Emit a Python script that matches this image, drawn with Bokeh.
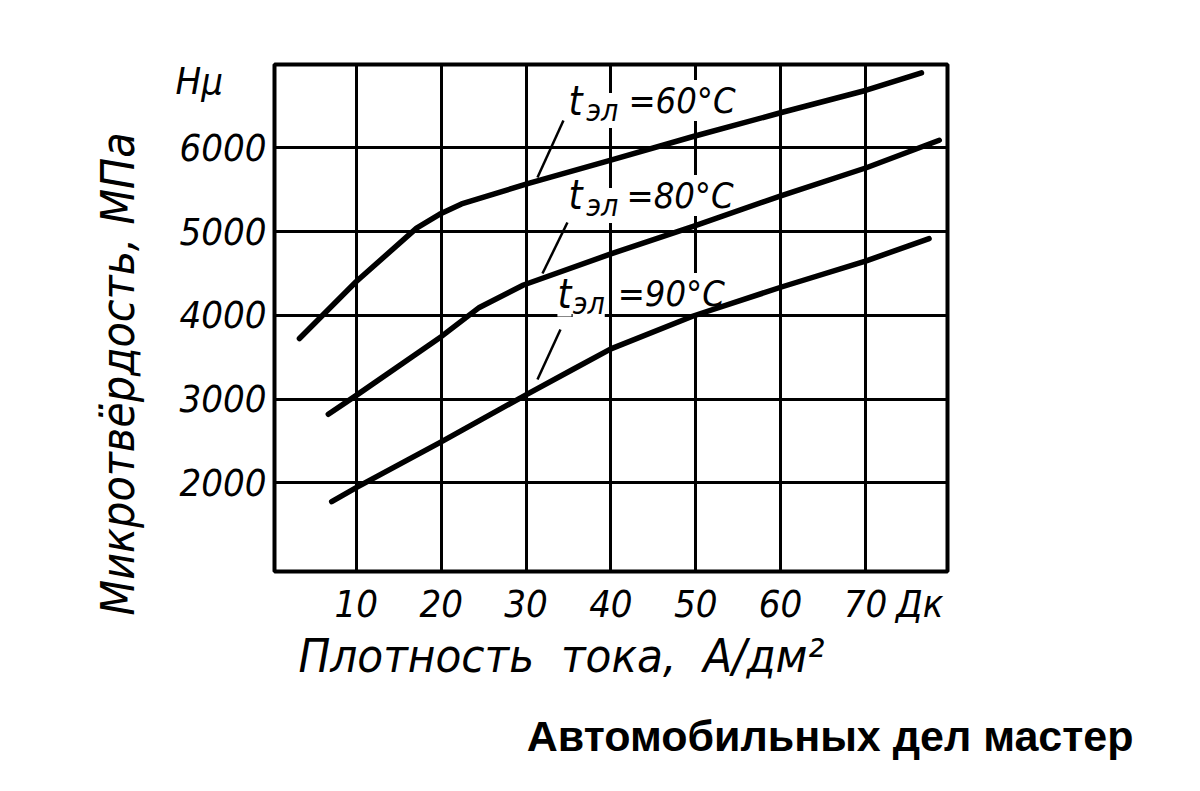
import math
from bokeh.plotting import figure
from bokeh.models import Range1d, FixedTicker, Label, Title
from bokeh.embed import file_html
from bokeh.resources import INLINE

# ---- data (current density A/dm2, microhardness MPa) ----
x_ticks = [10, 20, 30, 40, 50, 60, 70]
y_ticks = [2000, 3000, 4000, 5000, 6000]

x60 = [3.3, 10.0, 17.1, 19.8, 22.4, 30.3, 40.0, 49.7, 60.1, 70.1, 76.6]
y60 = [3723, 4403, 5041, 5205, 5329, 5575, 5851, 6134, 6420, 6686, 6893]
x80 = [6.7, 10.0, 20.0, 24.5, 29.7, 40.0, 49.7, 60.2, 70.1, 78.7]
y80 = [2819, 3045, 3745, 4094, 4362, 4733, 5061, 5432, 5761, 6089]
x90 = [7.1, 10.2, 20.0, 30.1, 35.5, 40.0, 49.7, 60.2, 70.1, 77.5]
y90 = [1778, 1955, 2489, 3057, 3353, 3600, 3992, 4341, 4650, 4916]

FONT = "'DejaVu Sans Condensed', 'Liberation Sans Narrow', 'DejaVu Sans', sans-serif"

p = figure(width=1184, height=790, output_backend="svg", toolbar_location=None,
           x_range=Range1d(0.36, 79.67), y_range=Range1d(943, 6993),
           min_border_left=274, min_border_right=237, min_border_top=64, min_border_bottom=219)

p.background_fill_color = "white"
p.border_fill_color = "white"
p.outline_line_color = "black"
p.outline_line_width = 4

# axis tick labels (unit symbols placed as extra ticks without grid lines)
p.xaxis.ticker = FixedTicker(ticks=x_ticks + [76.4])
p.xaxis.major_label_overrides = {76.4: "Дк"}
p.yaxis.ticker = FixedTicker(ticks=y_ticks + [6800])
p.yaxis.major_label_overrides = {6800: "Hμ\u00a0\u00a0\u00a0\u00a0"}
for ax in (p.xaxis, p.yaxis):
    ax.axis_line_color = None
    ax.major_tick_line_color = None
    ax.minor_tick_line_color = None
    ax.major_label_text_font = FONT
    ax.major_label_text_font_style = "italic"
    ax.major_label_text_font_size = "38px"
    ax.major_label_text_color = "black"
p.xaxis.major_label_standoff = 4
p.yaxis.major_label_standoff = 2

p.grid.grid_line_color = "black"
p.grid.grid_line_width = 3
p.xgrid.ticker = FixedTicker(ticks=x_ticks)
p.ygrid.ticker = FixedTicker(ticks=y_ticks)


def lbl(x, y, text, size):
    p.add_layout(Label(x=x, y=y, text=text, text_font=FONT, text_font_size=size,
                       text_font_style="italic", text_color="black",
                       text_align="left", text_baseline="alphabetic",
                       background_fill_color="white", level="underlay"))


# curve labels (drawn under the curves, white boxes break the grid)
for (tx, ty, sx, sy, ex, ey, eq) in [
    (35.0, 6563, 37.1, 6444, 42.07, 6563, "=60°C"),
    (35.0, 5430, 37.1, 5310, 41.84, 5430, "=80°C"),
    (33.7, 4260, 35.5, 4141, 40.80, 4260, "=90°C"),
]:
    lbl(tx, ty, "t", "40px")
    lbl(sx, sy, "эл", "30px")
    lbl(ex, ey, eq, "36px")

# leader lines
p.segment(x0=[34.41, 34.88, 34.06], y0=[6325, 5107, 3831],
          x1=[31.35, 31.94, 31.35], y1=[5644, 4499, 3234],
          line_color="black", line_width=2.5)

# curves
for xs, ys in [(x60, y60), (x80, y80), (x90, y90)]:
    p.line(xs, ys, line_color="black", line_width=5.5, line_cap="round", line_join="round")

# axis titles
p.add_layout(Title(text="Микротвёрдость, МПа", text_font=FONT, text_font_size="46px",
                   text_font_style="italic", text_color="black", align="left",
                   offset=-44, standoff=56), "left")
p.add_layout(Title(text="Плотность\u00a0\u00a0тока,\u00a0\u00a0А/дм²", text_font=FONT,
                   text_font_size="47px", text_font_style="italic", text_color="black",
                   align="left", offset=24, standoff=-6), "below")
# watermark
p.add_layout(Title(text="Автомобильных дел мастер", text_font="'Liberation Sans', Arial, sans-serif",
                   text_font_size="43px", text_font_style="bold", text_color="black",
                   align="right", offset=-186, standoff=60), "below")

open("out.html", "w").write(file_html(p, INLINE))
